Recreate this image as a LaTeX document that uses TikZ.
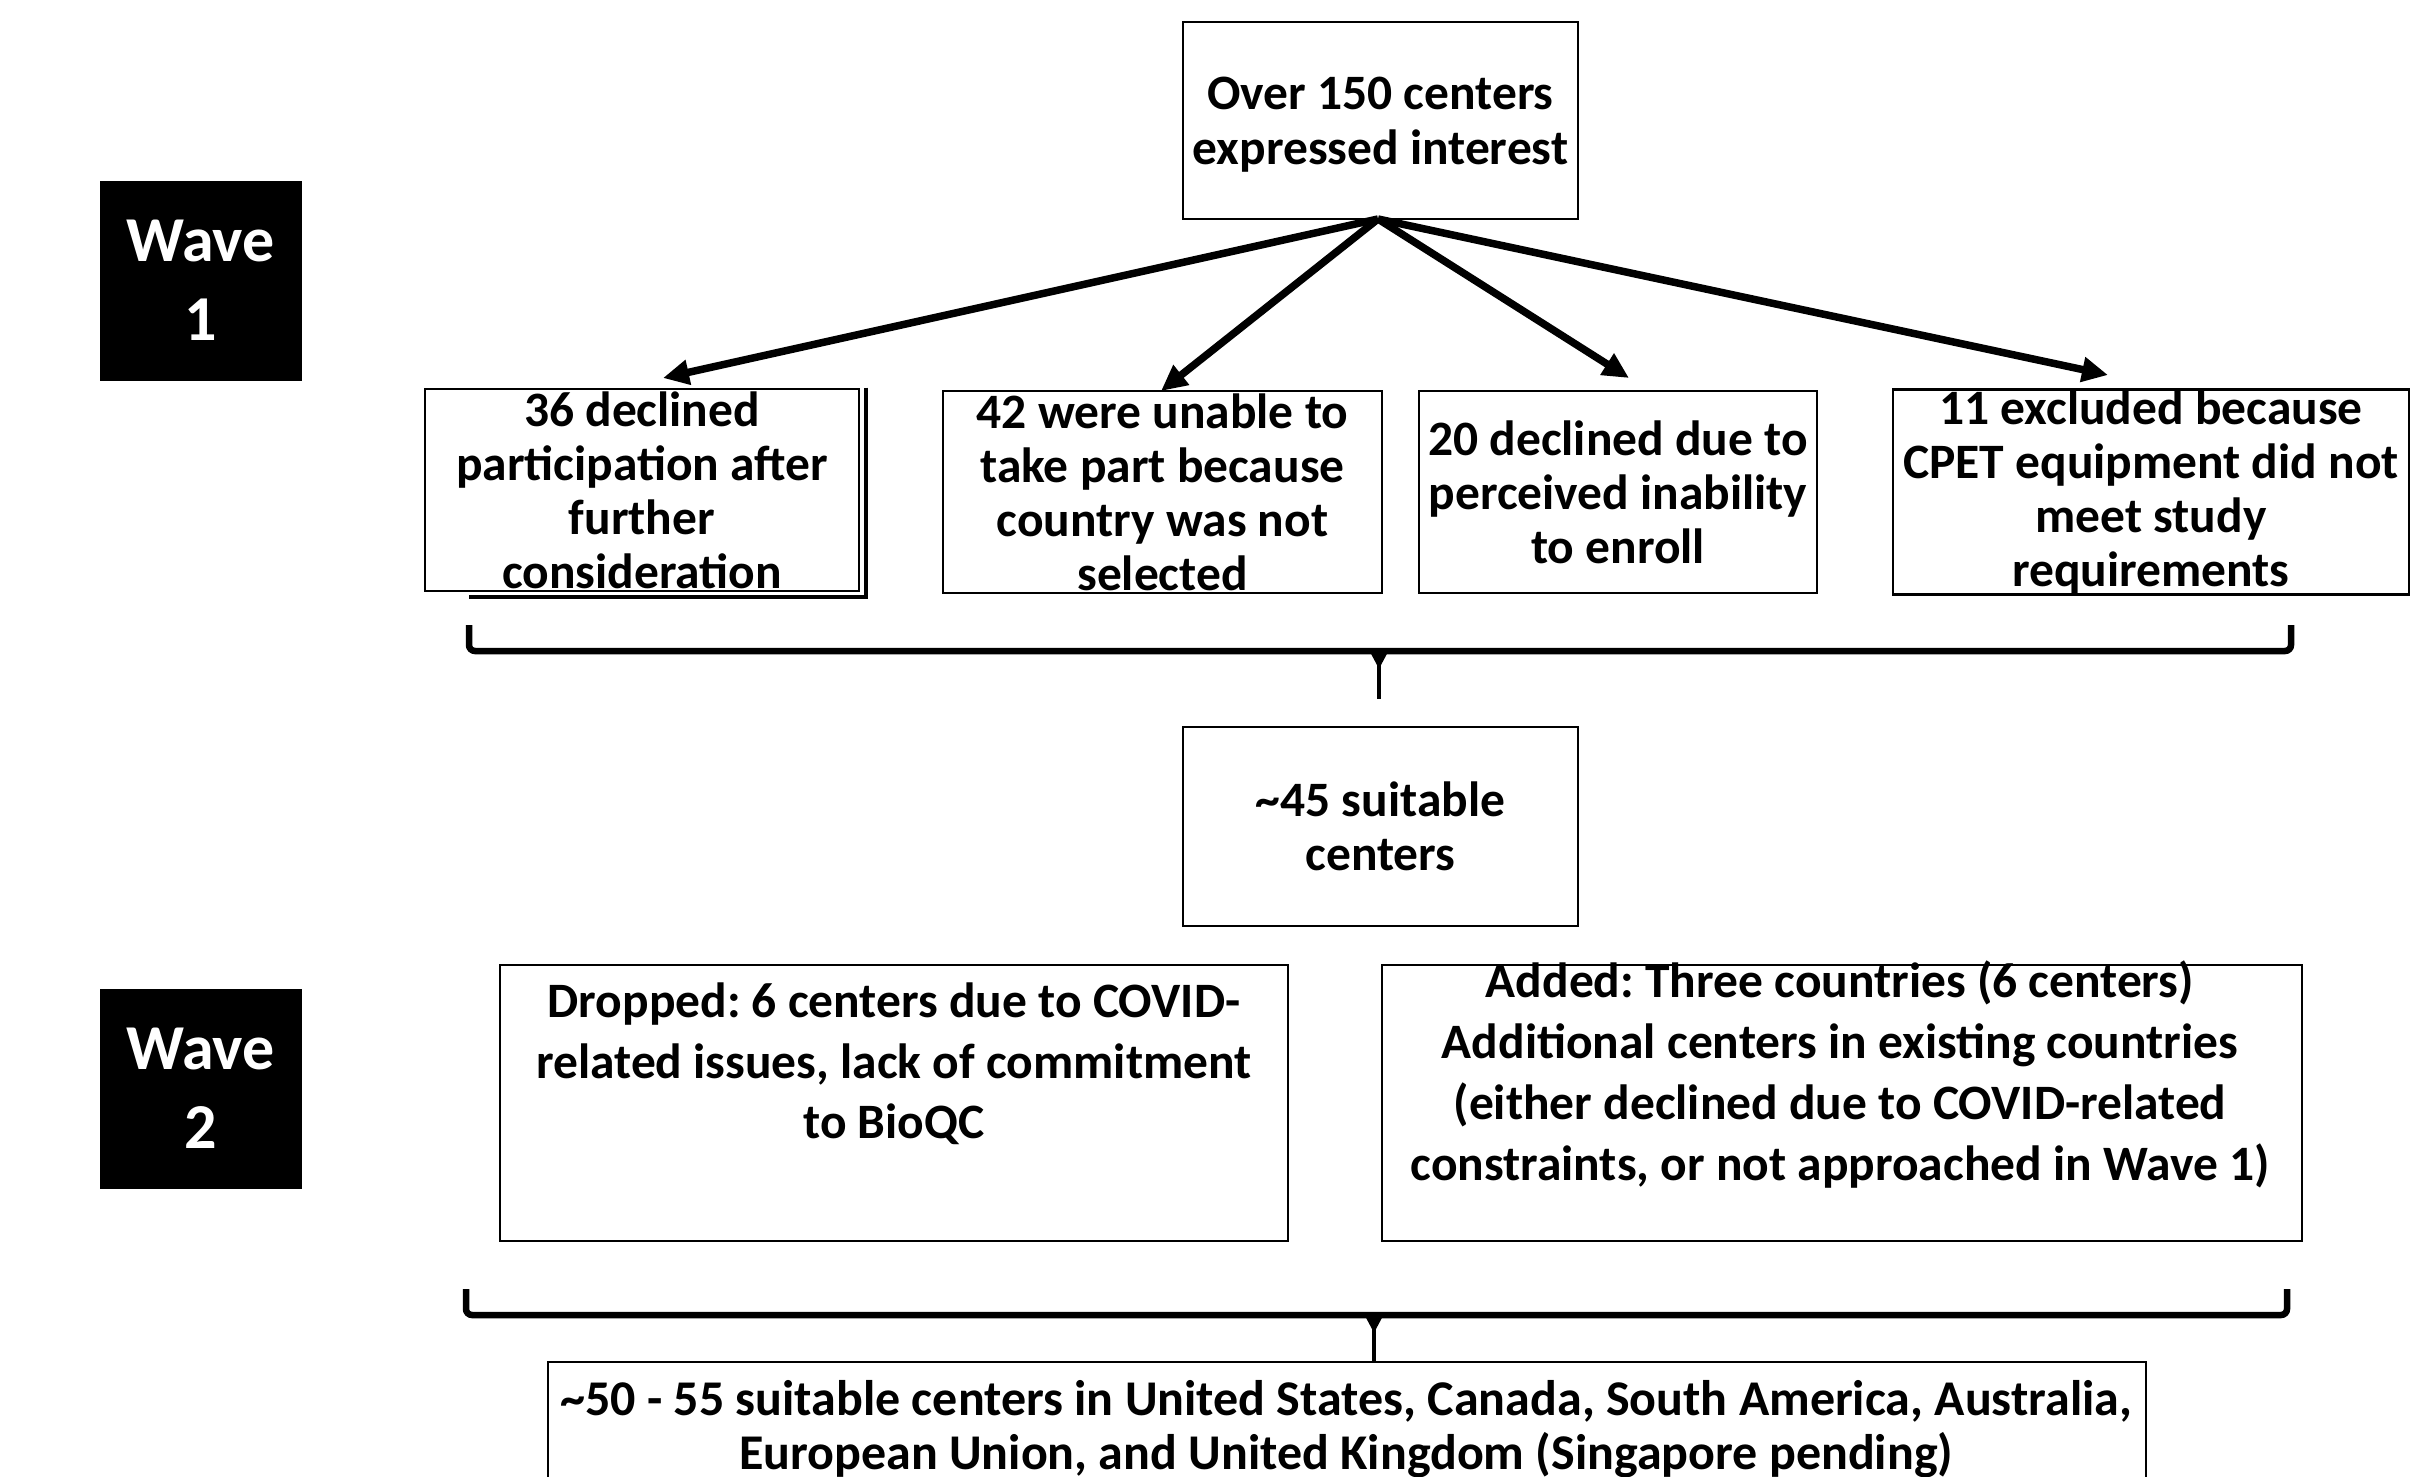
\documentclass[tikz,border=0pt]{standalone}
\usepackage{fontspec}
\setmainfont{Carlito}
\usetikzlibrary{arrows.meta}
\frenchspacing
\begin{document}
\begin{tikzpicture}[x=1pt,y=-1pt,
  box/.style={draw=black, line width=2.8pt, rectangle, inner sep=0pt, align=center,
    font=\fontsize{49.5}{54}\selectfont\bfseries},
  txt/.style={inner sep=0pt, align=center, font=\fontsize{50}{54}\selectfont\bfseries},
  txtb/.style={inner sep=0pt, align=center, font=\fontsize{49.5}{60.5}\selectfont\bfseries},
  wave/.style={fill=black, draw=black, rectangle, inner sep=0pt, align=center, text=white,
    minimum width=201pt, minimum height=199pt, font=\fontsize{64}{79}\selectfont\bfseries},
  arr/.style={line width=7.5pt, -{Triangle[length=26pt,width=24pt]}},
  bracepath/.style={line width=6.5pt, rounded corners=6pt},
  ticklink/.style={line width=4pt}
]
\clip (0,0) rectangle (2421,1477);
\fill[white] (0,0) rectangle (2421,1477);

% Wave labels
\node[wave] (w1) at (200.5,280.5) {Wave\\1};
\node[wave] (w2) at (200.5,1088.5) {Wave\\2};

% Top box
\node[box, minimum width=395pt, minimum height=197pt] (top) at (1380.5,120.5) {};
\node[txt, font=\fontsize{49.5}{55}\selectfont\bfseries] (toptxt) at (1380.5,125)
  {Over 150 centers\\expressed interest};

% Row of four
\node[box, minimum width=434pt, minimum height=202pt] (b1) at (642,490)
  {36 declined\\participation after\\further\\consideration};
\draw[line width=4pt] ([xshift=6pt,yshift=0pt]b1.north east) -- ([xshift=6pt,yshift=-5pt]b1.south east)
  -- ([xshift=45pt,yshift=-5pt]b1.south west);
\node[box, minimum width=439pt, minimum height=202pt] (b2) at (1162.5,492)
  {42 were unable to\\take part because\\country was not\\selected};
\node[box, minimum width=398pt, minimum height=202pt] (b3) at (1618,492)
  {20 declined due to\\perceived inability\\to enroll};
\node[box, minimum width=516pt, minimum height=202pt] (b4) at (2151,492)
  {11 excluded because\\CPET equipment did not\\meet study\\requirements};

% arrows
\coordinate (o) at (1378,219);
\coordinate (t1) at (663,378);
\coordinate (t2) at (1161,391);
\coordinate (t3) at (1629,378);
\coordinate (t4) at (2108,375);
\draw[arr] (o) -- (t1);
\draw[arr] (o) -- (t2);
\draw[arr] (o) -- (t3);
\draw[arr] (o) -- (t4);

% brace 1
\coordinate (br1l) at (469,625);
\coordinate (br1r) at (2291,625);
\coordinate (br1c) at (1379,651);
\coordinate (br1d) at (1379,699);
\draw[bracepath] (br1l) -- (469,651) -- (2291,651) -- (br1r);
\draw[ticklink] (br1c) -- (br1d);
\fill (1369,650) -- (1389,650) -- (1381,665) -- (1377,665) -- cycle;

% ~45 box
\node[box, minimum width=395pt, minimum height=199pt] (mid) at (1380.5,826.5)
  {\textasciitilde45 suitable\\centers};

% Wave 2 boxes
\node[box, minimum width=788pt, minimum height=276pt] (drop) at (894,1103) {};
\node[txtb] (droptxt) at (894,1064)
  {Dropped: 6 centers due to COVID-\\related issues, lack of commitment\\to BioQC};
\node[box, minimum width=920pt, minimum height=276pt] (add) at (1842,1103) {};
\node[txtb, font=\fontsize{49.5}{61}\selectfont\bfseries] (addtxt) at (1840,1075)
  {Added: Three countries (6 centers)\\Additional centers in existing countries\\(either declined due to COVID-related\\constraints, or not approached in Wave 1)};

% brace 2
\coordinate (br2l) at (466,1289);
\coordinate (br2r) at (2287,1289);
\coordinate (br2c) at (1374,1315);
\coordinate (br2d) at (1374,1362);
\draw[bracepath] (br2l) -- (466,1315) -- (2287,1315) -- (br2r);
\draw[ticklink] (br2c) -- (br2d);
\fill (1364,1314) -- (1384,1314) -- (1376,1329) -- (1372,1329) -- cycle;

% bottom box
\node[box, minimum width=1598pt, minimum height=198pt] (bot) at (1347,1461) {};
\node[txt] (bottxt) at (1346,1429)
  {\textasciitilde50 - 55 suitable centers in United States, Canada, South America, Australia,\\European Union, and United Kingdom (Singapore pending)};
\end{tikzpicture}
\end{document}
